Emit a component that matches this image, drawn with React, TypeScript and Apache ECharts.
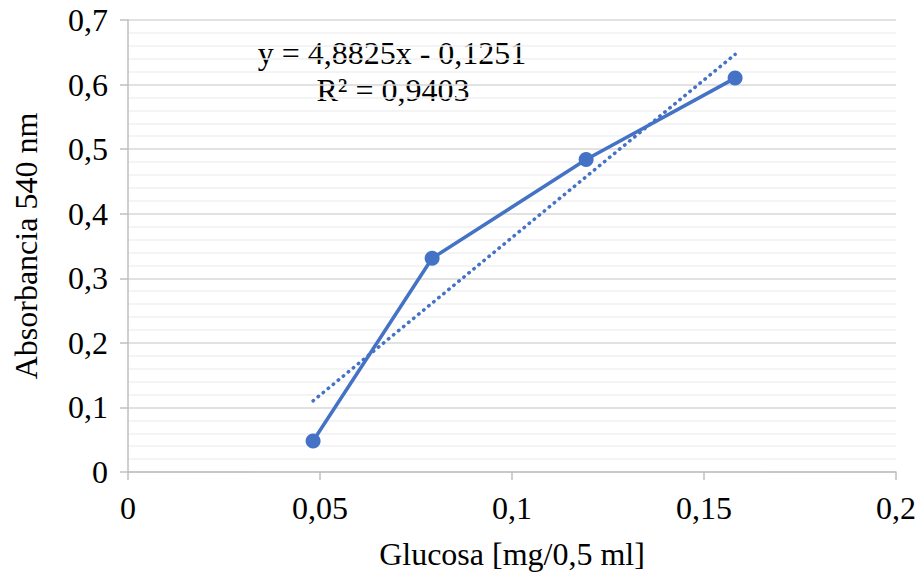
import React, { useEffect, useRef } from "react";
import * as echarts from "echarts";

const glucosa = [0.0482, 0.0792, 0.1193, 0.1581];
const absorbancia = [0.048, 0.331, 0.484, 0.61];
const trendSlope = 4.8825;
const trendIntercept = -0.1251;
const equationText = "y = 4,8825x - 0,1251";
const r2Text = "R² = 0,9403";
const xTitle = "Glucosa [mg/0,5 ml]";
const yTitle = "Absorbancia 540 nm";

const FONT = "'Liberation Serif', 'Times New Roman', serif";
const FS = 32;
const BLUE = "#4472C4";

const fmt = (v: number) => String(+v.toFixed(2)).replace(".", ",");

export default function App() {
  const ref = useRef<HTMLDivElement>(null);
  useEffect(() => {
    document.body.style.margin = "0";
    if (!ref.current) return;
    const chart = echarts.init(ref.current, undefined, { renderer: "svg" });
    const points = glucosa.map((x, i) => [x, absorbancia[i]]);
    const xs = [glucosa[0], glucosa[glucosa.length - 1]];
    const trend = xs.map((x) => [x, trendSlope * x + trendIntercept]);
    chart.setOption({
      animation: false,
      backgroundColor: "#ffffff",
      textStyle: { fontFamily: FONT, fontSize: FS },
      grid: { left: 128, right: 25, top: 20, bottom: 105, containLabel: false },
      xAxis: {
        type: "value",
        min: 0,
        max: 0.2,
        interval: 0.05,
        name: xTitle,
        nameLocation: "middle",
        nameGap: 66,
        nameTextStyle: { fontFamily: FONT, fontSize: FS, color: "#000", lineHeight: FS },
        axisLine: { show: true, lineStyle: { color: "#bfbfbf", width: 1.5 } },
        axisTick: { show: true, length: 8, lineStyle: { color: "#bfbfbf", width: 1.5 } },
        axisLabel: { formatter: fmt, fontFamily: FONT, fontSize: FS, color: "#000", margin: 20, lineHeight: FS },
        splitLine: { show: false },
      },
      yAxis: {
        type: "value",
        min: 0,
        max: 0.7,
        interval: 0.1,
        name: yTitle,
        nameLocation: "middle",
        nameGap: 86,
        nameRotate: 90,
        nameTextStyle: { fontFamily: FONT, fontSize: FS, color: "#000", lineHeight: FS },
        axisLine: { show: true, lineStyle: { color: "#bfbfbf", width: 1.5 } },
        axisTick: { show: true, length: 8, lineStyle: { color: "#bfbfbf", width: 1.5 } },
        axisLabel: { formatter: fmt, fontFamily: FONT, fontSize: FS, color: "#000", margin: 20, lineHeight: FS },
        splitLine: { show: true, lineStyle: { color: "#d9d9d9", width: 1.5 } },
        minorTick: { show: false, splitNumber: 5 },
        minorSplitLine: { show: true, lineStyle: { color: "#f0f0f0", width: 1.5 } },
      },
      series: [
        {
          type: "line",
          data: trend,
          showSymbol: false,
          symbol: "none",
          lineStyle: { color: BLUE, width: 3.5, type: [0.5, 6], cap: "round" },
          z: 2,
        },
        {
          type: "line",
          data: points,
          symbol: "circle",
          symbolSize: 15,
          itemStyle: { color: BLUE },
          lineStyle: { color: BLUE, width: 3.5 },
          z: 3,
        },
      ],
      graphic: [
        {
          type: "text",
          x: 392,
          y: 53,
          style: {
            text: equationText,
            fontFamily: FONT,
            fontSize: FS,
            lineHeight: FS,
            fill: "#000",
            align: "center",
            verticalAlign: "middle",
          },
        },
        {
          type: "text",
          x: 393,
          y: 90,
          style: {
            text: r2Text,
            fontFamily: FONT,
            fontSize: FS,
            lineHeight: FS,
            fill: "#000",
            align: "center",
            verticalAlign: "middle",
          },
        },
      ],
    });
    return () => chart.dispose();
  }, []);
  return <div ref={ref} style={{ width: 921, height: 577 }} />;
}
